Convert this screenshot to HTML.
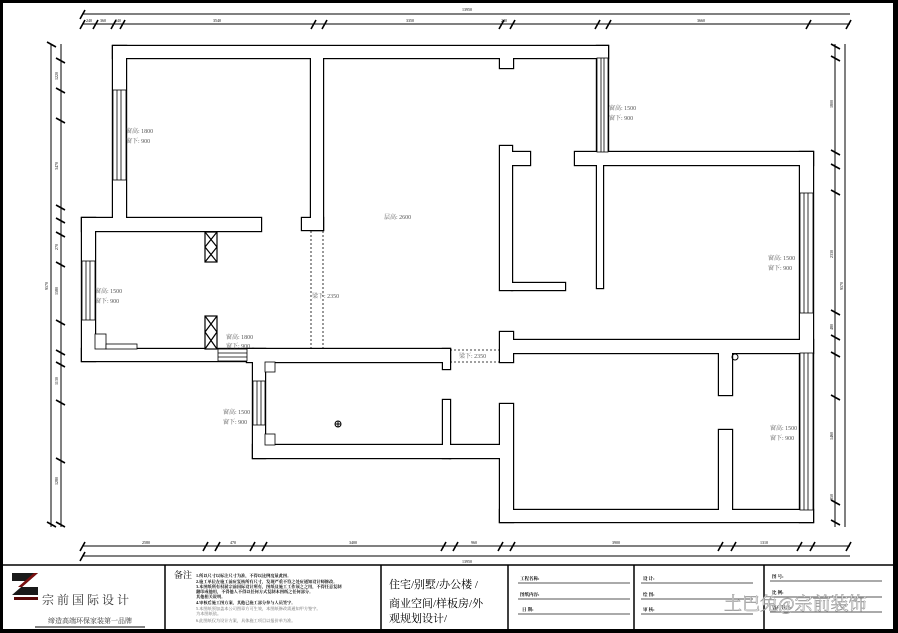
<!DOCTYPE html>
<html><head><meta charset="utf-8"><style>
html,body{margin:0;padding:0;background:#fff}
svg{display:block}
text{font-family:"Liberation Serif","Noto Serif CJK SC",serif}
.d{stroke:#000;stroke-width:1;fill:none}
.t{font-size:6px;fill:#555}
.s{font-size:4px;fill:#000}
</style></head><body>
<svg width="898" height="633" viewBox="0 0 898 633" xmlns="http://www.w3.org/2000/svg">
<defs>
<g id="walls">
<rect x="113" y="46" width="495" height="12"/>
<rect x="113" y="46" width="13" height="172"/>
<rect x="311" y="58" width="12" height="172"/>
<rect x="302" y="218" width="21" height="12"/>
<rect x="82" y="218" width="179" height="13"/>
<rect x="82" y="218" width="13" height="143"/>
<rect x="82" y="349" width="171" height="12"/>
<rect x="247" y="349" width="203" height="13"/>
<rect x="443" y="349" width="7" height="20"/>
<rect x="253" y="349" width="12" height="109"/>
<rect x="253" y="445" width="197" height="13"/>
<rect x="443" y="400" width="7" height="58"/>
<rect x="450" y="445" width="54" height="13"/>
<rect x="500" y="404" width="13" height="118"/>
<rect x="500" y="510" width="313" height="12"/>
<rect x="500" y="332" width="13" height="30"/>
<rect x="513" y="340" width="300" height="13"/>
<rect x="719" y="353" width="13" height="42"/>
<rect x="719" y="430" width="13" height="80"/>
<rect x="800" y="152" width="13" height="370"/>
<rect x="575" y="152" width="238" height="13"/>
<rect x="597" y="46" width="11" height="106"/>
<rect x="597" y="165" width="6" height="123"/>
<rect x="500" y="56" width="13" height="12"/>
<rect x="500" y="146" width="12" height="144"/>
<rect x="512" y="152" width="18" height="13"/>
<rect x="512" y="283" width="53" height="7"/>
</g>
</defs>
<rect x="0" y="0" width="898" height="633" fill="#fff"/>
<rect x="0" y="0" width="898" height="3" fill="#000"/>
<rect x="0" y="0" width="3" height="633" fill="#000"/>
<rect x="893" y="0" width="5" height="633" fill="#000"/>
<rect x="0" y="629" width="898" height="4" fill="#000"/>
<line x1="0" y1="565" x2="893" y2="565" stroke="#000" stroke-width="1.5"/>
<g stroke="#000" stroke-width="1.5">
<line x1="165" y1="565" x2="165" y2="629"/><line x1="381" y1="565" x2="381" y2="629"/>
<line x1="508" y1="565" x2="508" y2="629"/><line x1="634" y1="565" x2="634" y2="629"/>
<line x1="764" y1="565" x2="764" y2="629"/>
</g>
<g class="d">
<line x1="82" y1="14" x2="850" y2="14"/><line x1="82" y1="24" x2="850" y2="24"/>
<line x1="82" y1="546" x2="850" y2="546"/><line x1="82" y1="556" x2="850" y2="556"/>
<line x1="51" y1="44" x2="51" y2="527"/><line x1="61" y1="44" x2="61" y2="527"/>
<line x1="835" y1="44" x2="835" y2="527"/><line x1="845" y1="44" x2="845" y2="527"/>
</g>
<g stroke="#000" stroke-width="1.6">
<path d="M80,29l5,-9M80,19l5,-9M93,29l5,-9M111,29l5,-9M120,29l5,-9M311,29l5,-9M322,29l5,-9M499,29l5,-9M510,29l5,-9M595,29l5,-9M606,29l5,-9M806,29l5,-9M846,29l5,-9"/>
<path d="M80,551l5,-9M80,561l5,-9M203,551l5,-9M215,551l5,-9M250,551l5,-9M262,551l5,-9M441,551l5,-9M453,551l5,-9M498,551l5,-9M510,551l5,-9M718,551l5,-9M731,551l5,-9M797,551l5,-9M810,551l5,-9M846,551l5,-9"/>
<path d="M47,42l9,5M56,58l9,5M56,88l9,5M56,118l9,5M56,205l9,5M56,218l9,5M56,232l9,5M56,262l9,5M56,320l9,5M56,350l9,5M56,362l9,5M56,400l9,5M56,458l9,5M56,522l9,5M47,522l9,5"/>
<path d="M831,44l9,5M831,56l9,5M831,150l9,5M831,164l9,5M831,190l9,5M831,310l9,5M831,335l9,5M831,352l9,5M831,395l9,5M831,500l9,5M831,520l9,5"/>
</g>
<g class="s">
<text x="462" y="11">13950</text><text x="86" y="22">240</text><text x="100" y="22">360</text><text x="115" y="22">240</text><text x="213" y="22">3540</text><text x="406" y="22">3350</text><text x="501" y="22">240</text><text x="697" y="22">3660</text>
<text x="462" y="563">13950</text><text x="142" y="544">2580</text><text x="230" y="544">470</text><text x="349" y="544">3400</text><text x="471" y="544">960</text><text x="612" y="544">3900</text><text x="760" y="544">1310</text>
</g>
<g class="s" transform="rotate(-90)">
<text x="-290" y="48">9570</text><text x="-80" y="58">1220</text><text x="-170" y="58">3470</text><text x="-250" y="58">270</text><text x="-295" y="58">1580</text><text x="-385" y="58">1130</text><text x="-485" y="58">1280</text>
<text x="-290" y="843">9570</text><text x="-108" y="833">1800</text><text x="-258" y="833">2330</text><text x="-330" y="833">480</text><text x="-440" y="833">1460</text><text x="-500" y="833">850</text>
</g>
<!-- walls merged -->
<use href="#walls" fill="#000" stroke="#000" stroke-width="2.4"/>
<use href="#walls" fill="#fff" stroke="none"/>
<g stroke="#000" stroke-width="0.8" fill="#fff">
<rect x="113" y="90" width="13" height="90"/><line x1="117" y1="90" x2="117" y2="180"/><line x1="121" y1="90" x2="121" y2="180"/>
<rect x="82" y="261" width="13" height="59"/><line x1="86" y1="261" x2="86" y2="320"/><line x1="90" y1="261" x2="90" y2="320"/>
<rect x="597" y="58" width="11" height="94"/><line x1="601" y1="58" x2="601" y2="152"/><line x1="604" y1="58" x2="604" y2="152"/>
<rect x="800" y="193" width="13" height="120"/><line x1="804" y1="193" x2="804" y2="313"/><line x1="808" y1="193" x2="808" y2="313"/>
<rect x="800" y="353" width="13" height="157"/><line x1="804" y1="353" x2="804" y2="510"/><line x1="808" y1="353" x2="808" y2="510"/>
<rect x="253" y="381" width="12" height="44"/><line x1="257" y1="381" x2="257" y2="425"/><line x1="261" y1="381" x2="261" y2="425"/>
<rect x="218" y="349" width="29" height="12"/><line x1="218" y1="353" x2="247" y2="353"/><line x1="218" y1="357" x2="247" y2="357"/>
<rect x="265" y="362" width="10" height="10"/><rect x="265" y="434" width="10" height="11"/>
<rect x="95" y="334" width="11" height="15"/><rect x="106" y="344" width="31" height="5"/>
</g>
<g stroke="#000" stroke-width="1.2" fill="#fff">
<rect x="205" y="232" width="12" height="30"/><path d="M205,232l12,15M217,232l-12,15M205,247l12,15M217,247l-12,15"/>
<rect x="205" y="316" width="12" height="33"/><path d="M205,316l12,16M217,316l-12,16M205,332l12,17M217,332l-12,17"/>
</g>
<g stroke="#000" stroke-width="0.8" stroke-dasharray="2,2">
<line x1="311" y1="231" x2="311" y2="349"/><line x1="323" y1="231" x2="323" y2="349"/>
<line x1="450" y1="350" x2="500" y2="350"/><line x1="450" y1="362" x2="500" y2="362"/>
</g>
<circle cx="338" cy="424" r="3" fill="none" stroke="#000"/><path d="M335,424h6M338,421v6" stroke="#000"/>
<circle cx="735" cy="357" r="3" fill="none" stroke="#000"/>
<g class="t">
<text x="126" y="133">窗高: 1800</text><text x="126" y="143">窗下: 900</text>
<text x="95" y="293">窗高: 1500</text><text x="95" y="303">窗下: 900</text>
<text x="226" y="339">窗高: 1800</text><text x="226" y="348">窗下: 900</text>
<text x="223" y="414">窗高: 1500</text><text x="223" y="424">窗下: 900</text>
<text x="609" y="110">窗高: 1500</text><text x="609" y="120">窗下: 900</text>
<text x="768" y="260">窗高: 1500</text><text x="768" y="270">窗下: 900</text>
<text x="770" y="430">窗高: 1500</text><text x="770" y="440">窗下: 900</text>
<text x="384" y="219">层高: 2600</text>
<text x="312" y="298">梁下: 2350</text>
<text x="459" y="358">梁下: 2350</text>
</g>
<!-- logo -->
<path d="M12,573h26l-16,14h16v8h-26l16,-14h-16z" fill="#1a1a1a"/>
<path d="M14,597h24v3h-24z" fill="#5a0a0a"/>
<path d="M38,573l-16,14h-4l16,-14z" fill="#7a1010"/>
<text x="42" y="604" font-size="12" fill="#333" letter-spacing="3">宗前国际设计</text>
<text x="48" y="623" font-size="7" fill="#333">缔造高端环保家装第一品牌</text>
<line x1="35" y1="627" x2="145" y2="627" stroke="#000"/>
<text x="174" y="578" font-size="9" fill="#000">备注</text>
<g font-size="4.2" fill="#000" font-weight="bold">
<text x="196" y="577">1.所以尺寸以标注尺寸为准，不得以比例度量此图。</text>
<text x="196" y="583">2.施工单位在施工前应复核所有尺寸，发现严重不符之处应通知设计师修改。</text>
<text x="196" y="588">3.本图纸所有权属宗前国际设计所有，图纸及施工工作须之之用，不得任意复制</text>
<text x="196" y="593">翻印或他用，不得他人不得以任何方式复制本图纸之任何部分。</text>
<text x="196" y="598">其他相关说明。</text>
<text x="196" y="604">4.审核后施工图方案，其他已施工部分参与人员签字。</text>
</g>
<g font-size="4.2" fill="#666">
<text x="196" y="610">5.本图纸须加盖本公司图章方可生效，本图纸修改需通知甲方签字。</text>
<text x="196" y="615">为本图纸依。</text>
<text x="196" y="622">6.此图纸仅为设计方案，具体施工项目以报价单为准。</text>
</g>
<g font-size="11" fill="#000">
<text x="389" y="588">住宅/别墅/办公楼  /</text>
<text x="389" y="607">商业空间/样板房/外</text>
<text x="389" y="622">观规划设计/</text>
</g>
<g stroke="#555" stroke-width="1">
<line x1="518" y1="583" x2="630" y2="583"/><line x1="518" y1="599" x2="630" y2="599"/><line x1="518" y1="614" x2="630" y2="614"/>
<line x1="641" y1="583" x2="753" y2="583"/><line x1="641" y1="599" x2="753" y2="599"/><line x1="641" y1="614" x2="753" y2="614"/>
<line x1="770" y1="581" x2="882" y2="581"/><line x1="770" y1="597" x2="882" y2="597"/><line x1="770" y1="612" x2="882" y2="612"/>
</g>
<g font-size="4.5" fill="#000" font-weight="bold">
<text x="520" y="580">工程名称:</text><text x="520" y="596">图纸内容:</text><text x="522" y="611">日  期:</text>
<text x="643" y="580">设  计:</text><text x="643" y="596">绘  图:</text><text x="643" y="611">审  核:</text>
<text x="772" y="578">图  号:</text><text x="772" y="594">比  例:</text><text x="772" y="609">客户签字:</text>
</g>
<text x="724" y="610" font-size="18" fill="#fff" stroke="#999" stroke-width="0.6" font-family="Liberation Sans,Noto Sans CJK SC,sans-serif">土巴兔@宗前装饰</text>
</svg>
</body></html>
